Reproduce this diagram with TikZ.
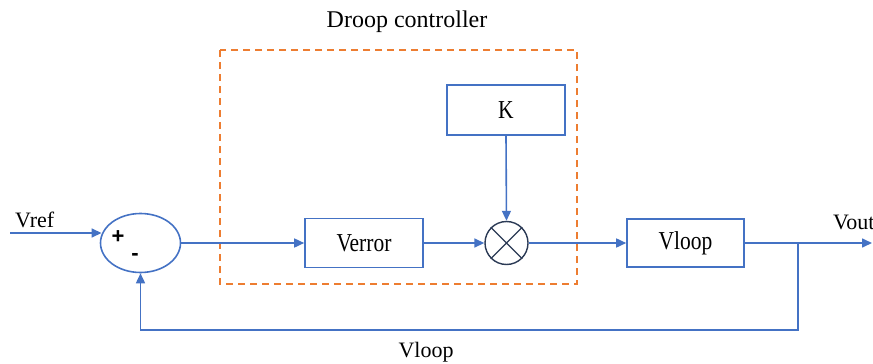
\documentclass[tikz,border=0pt]{standalone}
\usepackage{fontspec}
\setmainfont{Liberation Serif}
\newfontfamily\plusfont{Liberation Sans}
\usetikzlibrary{arrows.meta,shapes.geometric}
\definecolor{lineblue}{HTML}{4472C4}
\definecolor{dorange}{HTML}{ED7D31}
\definecolor{navy}{HTML}{2B3A55}
\tikzset{
  wire/.style={draw=lineblue, line width=1.6pt},
  arr/.style={wire, -{Triangle[length=10pt,width=9pt]}},
  blk/.style={draw=lineblue, line width=1.6pt, fill=white, rectangle, inner sep=0pt},
  lbl/.style={font=\fontsize{22}{25}\selectfont, inner sep=0pt},
  boxtxt/.style={font=\fontsize{21.5}{24}\selectfont},
  sumell/.style={draw=lineblue, line width=1.6pt, ellipse, minimum width=80pt, minimum height=59pt, inner sep=0pt},
  mult/.style={draw=navy, line width=1.4pt, circle, minimum size=43pt, inner sep=0pt},
}
\begin{document}
\begin{tikzpicture}[x=1pt,y=-1pt]
\useasboundingbox (0,0) rectangle (873,364);
% droop controller frame
\draw[dorange, line width=1.6pt, dash pattern=on 7pt off 5pt] (220,50) rectangle (577,284);
\node[lbl, font=\fontsize{24}{27}\selectfont] (droop) at (407,22) {Droop controller};
% blocks
\node[sumell] (sum) at (140.5,243) {};
\node[font=\plusfont\bfseries\fontsize{22}{24}\selectfont, inner sep=0pt] (plus) at (118,237) {+};
\node[font=\plusfont\bfseries\fontsize{22}{24}\selectfont, inner sep=0pt] (minus) at (135,257) {-};
\node[blk, minimum width=118pt, minimum height=49pt] (verr) at (364,243) {\scalebox{1}[1.2]{\fontsize{21.5}{24}\selectfont Verror}};
\node[mult] (mul) at (506.5,243) {};
\draw[navy, line width=1.3pt] (mul.45) -- (mul.225) (mul.135) -- (mul.315);
\node[blk, minimum width=118pt, minimum height=50pt] (K) at (506,110) {\scalebox{1}[1.2]{\fontsize{21.5}{24}\selectfont K}};
\node[blk, minimum width=117pt, minimum height=48pt] (vloop) at (685.5,243) {\scalebox{1}[1.2]{\fontsize{21.5}{24}\selectfont Vloop}};
% labels
\node[lbl, anchor=south west] (vref) at (15,228) {Vref};
\node[lbl, anchor=south west] (vout) at (833,230) {Vout};
\node[lbl] (vlooplbl) at (426,352) {Vloop};
% coordinates
\coordinate (vin) at (10,233);
\coordinate (vend) at (872,243);
\coordinate (j) at (798,243);
\coordinate (fb) at (140.5,330);
% connectors
\draw[arr] (vin) -- (vin -| sum.167.5);
\draw[arr] (sum.east) -- (verr.west);
\draw[arr] (verr.east) -- (mul.west);
\draw[arr] (K.south) -- (mul.north);
\draw[arr] (mul.east) -- (vloop.west);
\draw[arr] (vloop.east) -- (vend);
\draw[arr] (j) -- (j |- fb) -- (fb) -- (sum.south);
\end{tikzpicture}
\end{document}
